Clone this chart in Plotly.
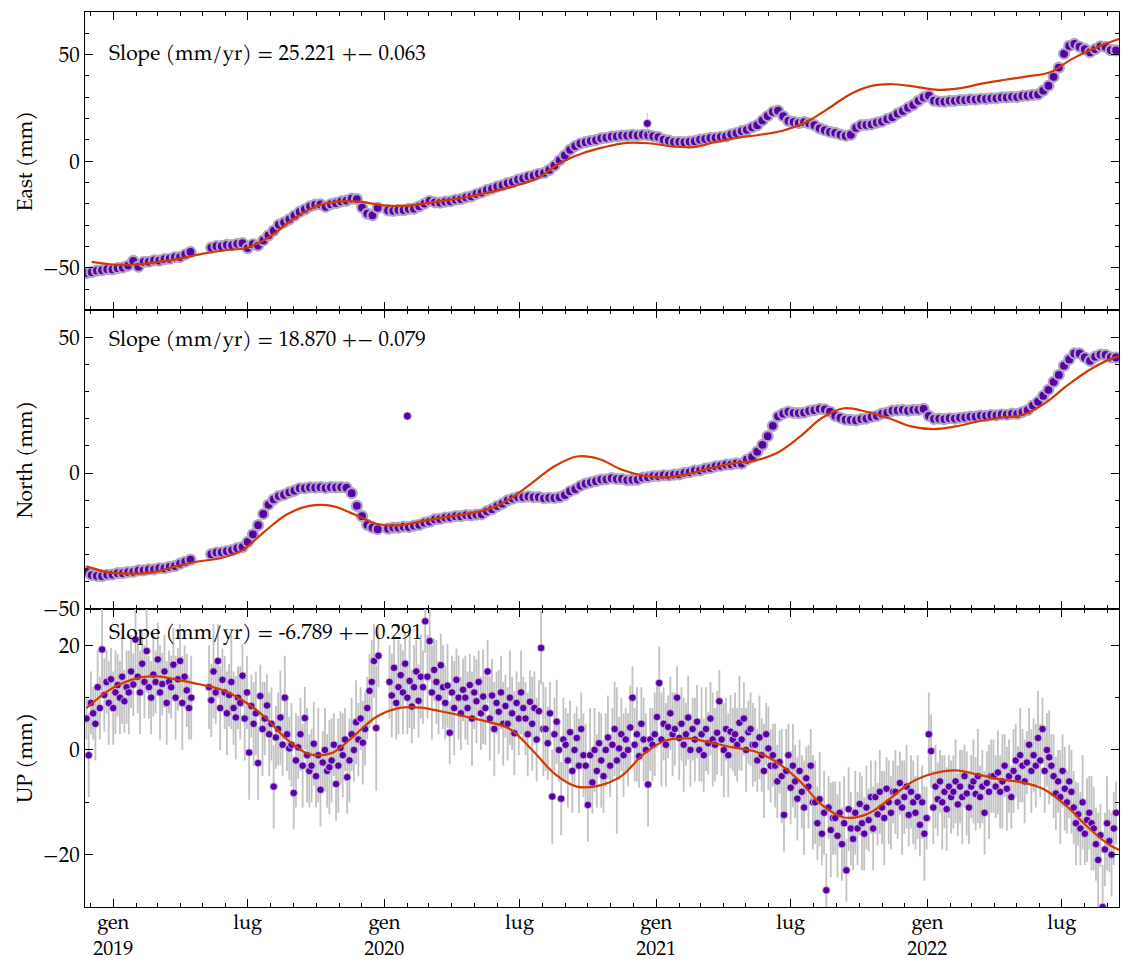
import pandas as pd
import plotly.graph_objects as go
from plotly.subplots import make_subplots

# ---------------- data ----------------
weekly_start = "2018-11-26"          # East / North: one value every 7 days
east_values = [
    -52.5, -52.1, -51.4, -51.2, -50.7, -50.8, -50.2, -49.9, -49.0, -46.8,
    -49.5, -47.3, -47.2, -46.6, -46.7, -46.0, -45.8, -45.1, -45.0, -43.8,
    -42.6, None, None, None, -40.6, -39.9, -39.9, -39.3, -39.4, -38.8,
    -38.5, -40.8, -39.0, -39.6, -37.2, -34.8, -32.6, -29.8, -28.7, -27.3,
    -25.6, -23.8, -22.6, -21.2, -20.4, -20.3, -21.4, -20.2, -19.7, -18.9,
    -18.5, -17.6, -17.8, -21.8, -24.6, -25.4, -21.9, None, -23.1, -23.3,
    -22.9, -23.0, -22.4, -22.3, -21.2, -19.9, -18.7, -19.3, -19.5, -19.0,
    -18.8, -18.1, -17.8, -17.0, -16.5, -15.4, -14.7, -13.6, -12.9, -11.9,
    -11.3, -10.3, -9.7, -8.7, -8.1, -7.2, -6.8, -5.9, -5.5, -4.1,
    -2.1, 0.4, 2.7, 5.3, 7.1, 8.3, 8.9, 9.5, 9.9, 10.7,
    11.0, 11.5, 11.6, 12.0, 12.0, 12.3, 12.1, 12.4, 12.2, 11.7,
    11.3, 10.1, 9.6, 9.0, 9.1, 8.9, 9.2, 9.4, 10.1, 10.4,
    10.9, 11.0, 11.4, 11.6, 12.6, 13.2, 14.1, 14.7, 15.9, 16.9,
    19.1, 21.2, 23.1, 23.7, 21.1, 18.9, 18.4, 17.9, 18.3, 17.7,
    16.9, 15.4, 14.5, 13.7, 13.3, 12.5, 11.9, 12.4, 15.6, 16.9,
    17.0, 17.3, 18.1, 18.6, 19.7, 20.6, 22.3, 23.5, 25.1, 26.4,
    28.3, 29.9, 30.7, 28.4, 28.0, 27.9, 28.3, 28.3, 28.7, 28.6,
    29.0, 28.9, 29.3, 29.2, 29.5, 29.5, 29.9, 29.9, 30.2, 30.1,
    30.6, 30.7, 31.1, 31.3, 33.1, 35.4, 39.6, 43.9, 50.4, 54.1,
    55.0, 53.7, 52.6, 51.1, 52.6, 53.9, 53.6, 52.1, 52.0,
]
north_values = [
    -36.4, -37.6, -37.9, -38.0, -37.5, -37.4, -36.9, -36.9, -36.5, -36.4,
    -35.9, -35.9, -35.5, -35.5, -35.1, -35.1, -34.6, -34.3, -33.4, -32.7,
    -31.9, None, None, None, -29.9, -29.3, -29.2, -28.8, -28.4, -27.7,
    -27.3, -25.4, -22.6, -19.2, -15.1, -11.7, -9.7, -8.5, -8.0, -7.1,
    -6.5, -5.6, -5.6, -5.3, -5.4, -5.2, -5.5, -5.2, -5.3, -5.2,
    -5.4, -7.4, -12.1, -15.9, -19.1, -20.1, -20.7, None, -20.5, -20.1,
    -20.1, -19.8, -19.9, -19.4, -19.1, -18.3, -17.9, -17.1, -16.9, -16.4,
    -16.3, -15.9, -15.9, -15.5, -15.6, -15.3, -15.2, -14.1, -13.3, -12.2,
    -11.3, -10.1, -9.4, -8.9, -8.9, -8.6, -8.9, -8.9, -9.3, -9.1,
    -9.2, -8.9, -8.1, -6.7, -5.9, -4.7, -3.9, -3.4, -3.0, -2.4,
    -2.3, -1.9, -2.2, -2.2, -2.6, -2.5, -2.4, -1.7, -1.5, -1.1,
    -1.1, -0.8, -0.9, -0.6, -0.5, 0.1, 0.3, 0.9, 1.0, 1.6,
    1.9, 2.5, 2.7, 3.1, 3.2, 3.6, 3.5, 4.9, 5.9, 7.9,
    10.4, 13.6, 17.4, 20.9, 21.9, 22.6, 22.2, 22.1, 22.3, 22.9,
    23.2, 23.7, 23.5, 22.6, 21.1, 20.4, 19.7, 19.6, 19.4, 19.9,
    20.1, 20.7, 21.1, 21.9, 22.3, 23.0, 23.1, 23.3, 23.0, 23.3,
    23.3, 23.7, 21.1, 20.0, 20.1, 19.9, 20.2, 20.1, 20.4, 20.5,
    20.8, 20.8, 21.2, 21.1, 21.4, 21.3, 21.6, 21.5, 21.9, 21.8,
    22.5, 23.2, 24.9, 26.3, 28.5, 30.7, 33.6, 36.2, 39.6, 41.9,
    44.1, 44.1, 42.6, 41.4, 42.9, 43.7, 43.6, 42.7, 42.6,
]
east_sigma = 1.4
north_sigma = 1.4

east_outlier_dates = ["2020-12-20"]
east_outlier_values = [17.7]
east_outlier_sigma = [5.0]
north_outlier_dates = ["2020-02-01"]
north_outlier_values = [21.0]
north_outlier_sigma = [1.2]

up_start = "2018-11-26"              # UP: one value every 3 days
up_rows = [
    [6, -1, 9, 7, 5],
    [12, 8, 19.2, 10.5, 13, 9],
    [13.5, 8, 11, 12.4, 10, 14, 9.3, 12, 11],
    [15, 12.5, 21.1, 14, 11, 16.5, 13, 18.9, 12],
    [10, 14.4, 13, 17.3, 11, 12.6, 15, 9, 13],
    [12, 16.3, 10, 13.5, 17, 9, 14, 11.4, 8, 10],
    [None, None, None, None, None, None, None],
    [12, 9.5, 15, 11, 17, 8, 13.4],
    [11, 7, 10.5, 13, 8, 6.2, 10],
    [9, 14.2, 6, 11, -0.5, 8.4, 5],
    [7, -2.5, 10.3, 4, 6, 8.5, 3],
    [5, -7, 2.4, 4, 6.2, 1, 10, 3, 0.3],
    [1, -8.2, -2, 0.5, 3, -3, 6.1, -1, -4],
    [-3, 1.2, -5, -1, -7.6, -2.4, 0, -4, -3.3],
    [-2, 1, -6.5, -3, 0.4, -1, 2, -5.2, -2],
    [3, 0, 5.3, 2, 6, 1.4, 4],
    [8, 11.3, 13, 17, 4.2, 18],
    [None, None, None, None],
    [13, 10.4, 15.7, 9, 12, 14.3],
    [11, 16.5, 10, 13.2, 8.3, 12, 15, 9.4, 14],
    [12, 24.6, 14, 20.8, 11, 15.3, 13, 10, 16.2, 12],
    [9, 12.3, 3.3, 11, 8, 13.4, 10, 7, 11.5],
    [10, 8, 12.4, 6, 11, 9.3, 13, 7, 10.2],
    [8, 15, 6, 10.4, 4, 9, 7.3, 11, 5],
    [8.4, 5, 10, 7, 3.2, 9, 6, 11, 8],
    [6, 3, 9.2, 5, 8, 2, 7.4, 19.5, 4],
    [4, 1.3, 7, -8.9, 3, 5.4, 0, -9.3, 2],
    [1, -2, 3.4, -4, 0, 2.3, -3, 4, -1],
    [-3, -10.5, -1, -6.2, 0, -4, 1.3, -2, -5],
    [0, 2.4, -3, 1, 4, -2, 0.3, 3, -1],
    [2, 0, 4.3, 10, 1, 3, -1.2, 5, 2],
    [0, -6.6, 2, 1],
    [3, 6.3, 12.8, 2, 5, 1, 4.4, 7, 3],
    [4, 10, 2.3, 5, 1, 3, 6.2, 0, 4],
    [2, 5.4, 0, 3, -1, 4, 1.3, 6, 2],
    [1, 3.3, 9.3, 2, 0, 4, -1, 3.5, 2],
    [3, 1, 5.2, 2, 6, 0, 3.4, 4, 1],
    [1, -2, 2.4, -1, -4, 3, 0.3, -3, -1],
    [-3, -6, -2.3, -5, -12.4, -4, -1, -7.2, -3],
    [-6, -9.3, -4, -8, -11, -5.4, -7, -3, -10],
    [-10, -14, -9.4, -16, -12, -26.8, -11, -15.3, -13],
    [-13, -16.4, -12, -18, -14, -23, -11.3, -15, -17],
    [-12, -15, -10.3, -14, -16, -11, -13.4, -9, -15],
    [-9, -12.3, -8, -11, -13, -7.4, -10, -12, -8],
    [-8, -10, -6.3, -11, -9, -7, -12.4, -8, -10],
    [-12, -9, -14.3, -10, -16],
    [-13, 3, -0.2, -11],
    [-7, -9.4, -6, -10, -8, -11.3, -7, -9],
    [-8, -6, -10.4, -7, -9, -5, -8.3, -11, -7],
    [-6, -8.4, -5, -9, -7, -12, -6.3, -8, -5],
    [-5, -7, -4.3, -8, -6, -3, -7.4, -5, -9],
    [-4, -2, -5.3, -1, -3, -6, -2.4, 1, -4],
    [-1, -3, 2.3, -2, 4, -4, 0, -1.4, -3],
    [-5, -8.3, -6, -9, -4, -7.4, -10, -6, -8],
    [-11, -14, -12.3, -15, -10, -16, -13.4, -12, -14],
    [-15, -18, -21, -16.3, -30, -19, -14, -17.4, -20],
    [-15, -12],
]
up_err_rows = [
    [4, 8, 6, 5, 7],
    [7, 6, 8, 7, 6, 8],
    [6, 7, 8, 6, 7, 9, 6, 7, 8],
    [7, 6, 9, 7, 8, 6, 7, 8, 6],
    [7, 8, 6, 7, 9, 6, 7, 8, 6],
    [6, 7, 8, 6, 7, 9, 6, 7, 6, 8],
    [0, 0, 0, 0, 0, 0, 0],
    [8, 7, 9, 6, 7, 8, 6],
    [7, 8, 6, 9, 7, 8, 6],
    [7, 6, 8, 7, 9, 6, 8],
    [8, 7, 6, 9, 7, 6, 8],
    [7, 8, 6, 7, 9, 6, 8, 7, 6],
    [8, 7, 9, 6, 7, 8, 6, 9, 7],
    [7, 8, 6, 9, 7, 6, 8, 7, 9],
    [8, 6, 7, 9, 7, 8, 6, 7, 8],
    [7, 6, 8, 7, 6, 8, 7],
    [6, 7, 8, 7, 12, 6],
    [0, 0, 0, 0],
    [7, 8, 6, 7, 9, 6],
    [8, 6, 7, 9, 7, 8, 6, 7, 8],
    [7, 6, 8, 7, 9, 6, 8, 7, 6, 8],
    [7, 8, 6, 7, 9, 6, 8, 7, 6],
    [8, 7, 6, 9, 7, 8, 6, 7, 9],
    [7, 6, 8, 7, 9, 6, 8, 7, 8],
    [6, 7, 9, 7, 8, 6, 7, 8, 6],
    [7, 8, 6, 9, 7, 8, 6, 7, 9],
    [8, 7, 6, 9, 7, 8, 6, 7, 8],
    [7, 9, 6, 8, 7, 6, 9, 7, 8],
    [8, 7, 9, 6, 8, 7, 6, 9, 7],
    [7, 8, 6, 7, 9, 14, 6, 7, 8],
    [6, 7, 8, 6, 7, 9, 6, 7, 8],
    [7, 8, 6, 7],
    [8, 6, 7, 9, 7, 8, 6, 7, 8],
    [7, 6, 8, 7, 9, 6, 8, 7, 6],
    [8, 7, 6, 9, 7, 8, 6, 7, 9],
    [7, 8, 6, 7, 9, 6, 8, 7, 6],
    [8, 7, 9, 6, 7, 8, 6, 7, 8],
    [7, 6, 8, 7, 9, 6, 8, 7, 6],
    [8, 7, 6, 9, 7, 8, 6, 7, 8],
    [7, 8, 6, 7, 9, 6, 8, 7, 9],
    [8, 7, 9, 6, 8, 7, 6, 9, 7],
    [7, 8, 6, 7, 9, 6, 8, 7, 6],
    [8, 7, 6, 9, 7, 8, 6, 7, 8],
    [7, 6, 8, 7, 9, 6, 8, 7, 6],
    [8, 7, 6, 9, 7, 8, 6, 7, 8],
    [7, 8, 6, 7, 9],
    [6, 8, 7, 7],
    [8, 7, 6, 9, 7, 8, 6, 7],
    [7, 8, 6, 7, 9, 6, 8, 7, 6],
    [8, 7, 9, 6, 7, 8, 6, 9, 7],
    [7, 6, 8, 7, 9, 6, 8, 7, 6],
    [8, 7, 6, 9, 7, 8, 6, 7, 8],
    [7, 8, 9, 7, 6, 8, 7, 9, 6],
    [8, 7, 6, 9, 7, 8, 6, 7, 8],
    [7, 8, 6, 7, 9, 6, 8, 7, 9],
    [8, 7, 9, 6, 8, 7, 9, 6, 8],
    [7, 6],
]

# smooth model curves, one value every 30 days
east_fit_start = "2018-12-03"
east_fit = [
    -47.3, -48.6, -48.5, -47.3, -45.6, -43.4, -41.8, -40.5, -35.4, -27.5,
    -21.5, -19.0, -19.0, -20.6, -21.0, -19.8, -18.2, -16.6, -14.2, -11.6,
    -8.0, -1.0, 3.6, 6.6, 8.6, 8.4, 7.0, 6.6, 9.0, 11.0,
    12.4, 14.3, 18.0, 24.3, 31.2, 35.3, 36.1, 34.9, 33.5, 34.3,
    36.5, 38.2, 39.8, 41.7, 48.0, 53.0, 57.0, 60.0,
]
north_fit_start = "2018-11-26"
north_fit = [
    -34.4, -36.6, -37.1, -36.5, -34.4, -32.6, -31.4, -28.4, -21.5, -15.2,
    -12.1, -12.1, -15.2, -18.7, -19.3, -17.8, -16.4, -15.1, -13.4, -9.5,
    -3.6, 2.5, 6.1, 5.2, 1.3, -1.0, -1.6, -0.4, 1.8, 3.6,
    4.6, 7.5, 13.3, 20.3, 23.9, 22.6, 20.2, 17.2, 16.2, 17.2,
    19.0, 20.4, 21.4, 25.7, 32.2, 38.0, 42.2, 44.5,
]
up_fit_start = "2018-11-26"
up_fit = [
    8.0, 11.4, 13.4, 14.1, 13.5, 12.6, 11.6, 9.5, 6.3, 2.0,
    -0.8, -0.6, 2.7, 6.3, 8.0, 8.1, 7.3, 6.4, 5.4, 4.0,
    0.0, -4.5, -7.0, -6.8, -5.0, -0.8, 1.8, 2.2, 1.4, 0.5,
    -0.3, -2.4, -5.9, -10.5, -12.9, -12.3, -9.5, -6.2, -4.5, -3.9,
    -4.7, -5.6, -6.2, -7.6, -10.8, -15.0, -18.4, -20.0,
]

slope_texts = [
    "Slope (mm/yr) = 25.221 +− 0.063",
    "Slope (mm/yr) = 18.870 +− 0.079",
    "Slope (mm/yr) = -6.789 +− 0.291",
]
axis_titles = ["East (mm)", "North (mm)", "UP (mm)"]
x_tick_dates = ["2019-01-01", "2019-07-01", "2020-01-01", "2020-07-01",
                "2021-01-01", "2021-07-01", "2022-01-01", "2022-07-01"]
x_tick_labels = ["gen<br>2019", "lug", "gen<br>2020", "lug",
                 "gen<br>2021", "lug", "gen<br>2022", "lug"]
x_range = ["2018-11-24", "2022-09-16"]

# ---------------- build ----------------
up_values = [v for row in up_rows for v in row]
up_errors = [e for row in up_err_rows for e in row]
assert len(up_values) == len(up_errors)

week_dates = pd.date_range(weekly_start, periods=len(east_values), freq="7D")
north_dates = pd.date_range(weekly_start, periods=len(north_values), freq="7D")
up_dates = pd.date_range(up_start, periods=len(up_values), freq="3D")
east_fit_dates = pd.date_range(east_fit_start, periods=len(east_fit), freq="30D")
north_fit_dates = pd.date_range(north_fit_start, periods=len(north_fit), freq="30D")
up_fit_dates = pd.date_range(up_fit_start, periods=len(up_fit), freq="30D")

FONT = "TeX Gyre Pagella, Palatino Linotype, Liberation Serif, serif"
MARK_DENSE = dict(color="#5a00a8", size=10, line=dict(color="#b0a6c2", width=2.2))
MARK_UP = dict(color="#5a00a8", size=7.5, line=dict(color="#d6cfe0", width=0.8))
ERRC = "#c2c2c2"
FITC = "#d13b00"

fig = make_subplots(rows=3, cols=1, shared_xaxes=True, vertical_spacing=0)

def add_series(row, x, y, err, mark, thick, ox=None, oy=None, oerr=None):
    fig.add_trace(go.Scatter(
        x=x, y=y, mode="markers", marker=mark,
        error_y=dict(type="data", array=err, color=ERRC, thickness=thick, width=0),
        showlegend=False, hoverinfo="skip"), row=row, col=1)
    if ox is not None:
        fig.add_trace(go.Scatter(
            x=ox, y=oy, mode="markers",
            marker=dict(color="#5a00a8", size=8, line=dict(color="#d6cfe0", width=0.8)),
            error_y=dict(type="data", array=oerr, color=ERRC, thickness=1, width=0),
            showlegend=False, hoverinfo="skip"), row=row, col=1)

add_series(1, week_dates, east_values, [east_sigma] * len(east_values), MARK_DENSE, 1,
           east_outlier_dates, east_outlier_values, east_outlier_sigma)
add_series(2, north_dates, north_values, [north_sigma] * len(north_values), MARK_DENSE, 1,
           north_outlier_dates, north_outlier_values, north_outlier_sigma)
add_series(3, up_dates, up_values, up_errors, MARK_UP, 1.8)

for row, (fx, fy) in enumerate([(east_fit_dates, east_fit),
                                (north_fit_dates, north_fit),
                                (up_fit_dates, up_fit)], start=1):
    fig.add_trace(go.Scatter(x=fx, y=fy, mode="lines",
                             line=dict(color=FITC, width=2.2, shape="spline"),
                             showlegend=False, hoverinfo="skip"), row=row, col=1)

y_specs = [dict(range=[-70, 70], dtick=50, minor=10),
           dict(range=[-50, 60], dtick=50, minor=10),
           dict(range=[-30, 27], dtick=20, minor=10)]

for row in range(1, 4):
    spec = y_specs[row - 1]
    fig.update_yaxes(
        row=row, col=1, range=spec["range"], tick0=0, dtick=spec["dtick"],
        ticks="inside", ticklen=8, tickwidth=1, tickcolor="black",
        minor=dict(ticks="inside", ticklen=4, tick0=0, dtick=spec["minor"],
                   tickcolor="black", showgrid=False),
        showline=True, linecolor="black", linewidth=1, mirror="ticks",
        showgrid=False, zeroline=False, automargin=False,
        tickfont=dict(family=FONT, size=21, color="black"),
        title=dict(text=axis_titles[row - 1],
                   font=dict(family=FONT, size=21, color="black"), standoff=4),
    )
    fig.update_xaxes(
        row=row, col=1, type="date", range=x_range,
        tickmode="array", tickvals=x_tick_dates, ticktext=x_tick_labels,
        ticks="inside", ticklen=8, tickwidth=1, tickcolor="black",
        minor=dict(ticks="inside", ticklen=4, dtick="M1", tick0="2019-01-01",
                   tickcolor="black", showgrid=False),
        showline=True, linecolor="black", linewidth=1, mirror="ticks",
        showgrid=False, zeroline=False, automargin=False,
        showticklabels=(row == 3), ticklabelstandoff=-3,
        tickfont=dict(family=FONT, size=20, color="black"),
    )

ann_y = [0.856, 0.896, 0.916]
for row in range(1, 4):
    fig.add_annotation(
        text=slope_texts[row - 1], showarrow=False,
        xref="x domain" if row == 1 else f"x{row} domain",
        yref="y domain" if row == 1 else f"y{row} domain",
        x=0.021, y=ann_y[row - 1], xanchor="left", yanchor="middle",
        font=dict(family=FONT, size=21, color="black"))

fig.update_layout(
    width=1121, height=961,
    margin=dict(l=85, r=2, t=12, b=54),
    paper_bgcolor="white", plot_bgcolor="white",
    font=dict(family=FONT, size=21, color="black"),
)

fig.write_html("out.html",
               config={"displayModeBar": False},
               post_script="document.body.style.margin='0';"
                           "document.body.style.overflow='hidden';")
